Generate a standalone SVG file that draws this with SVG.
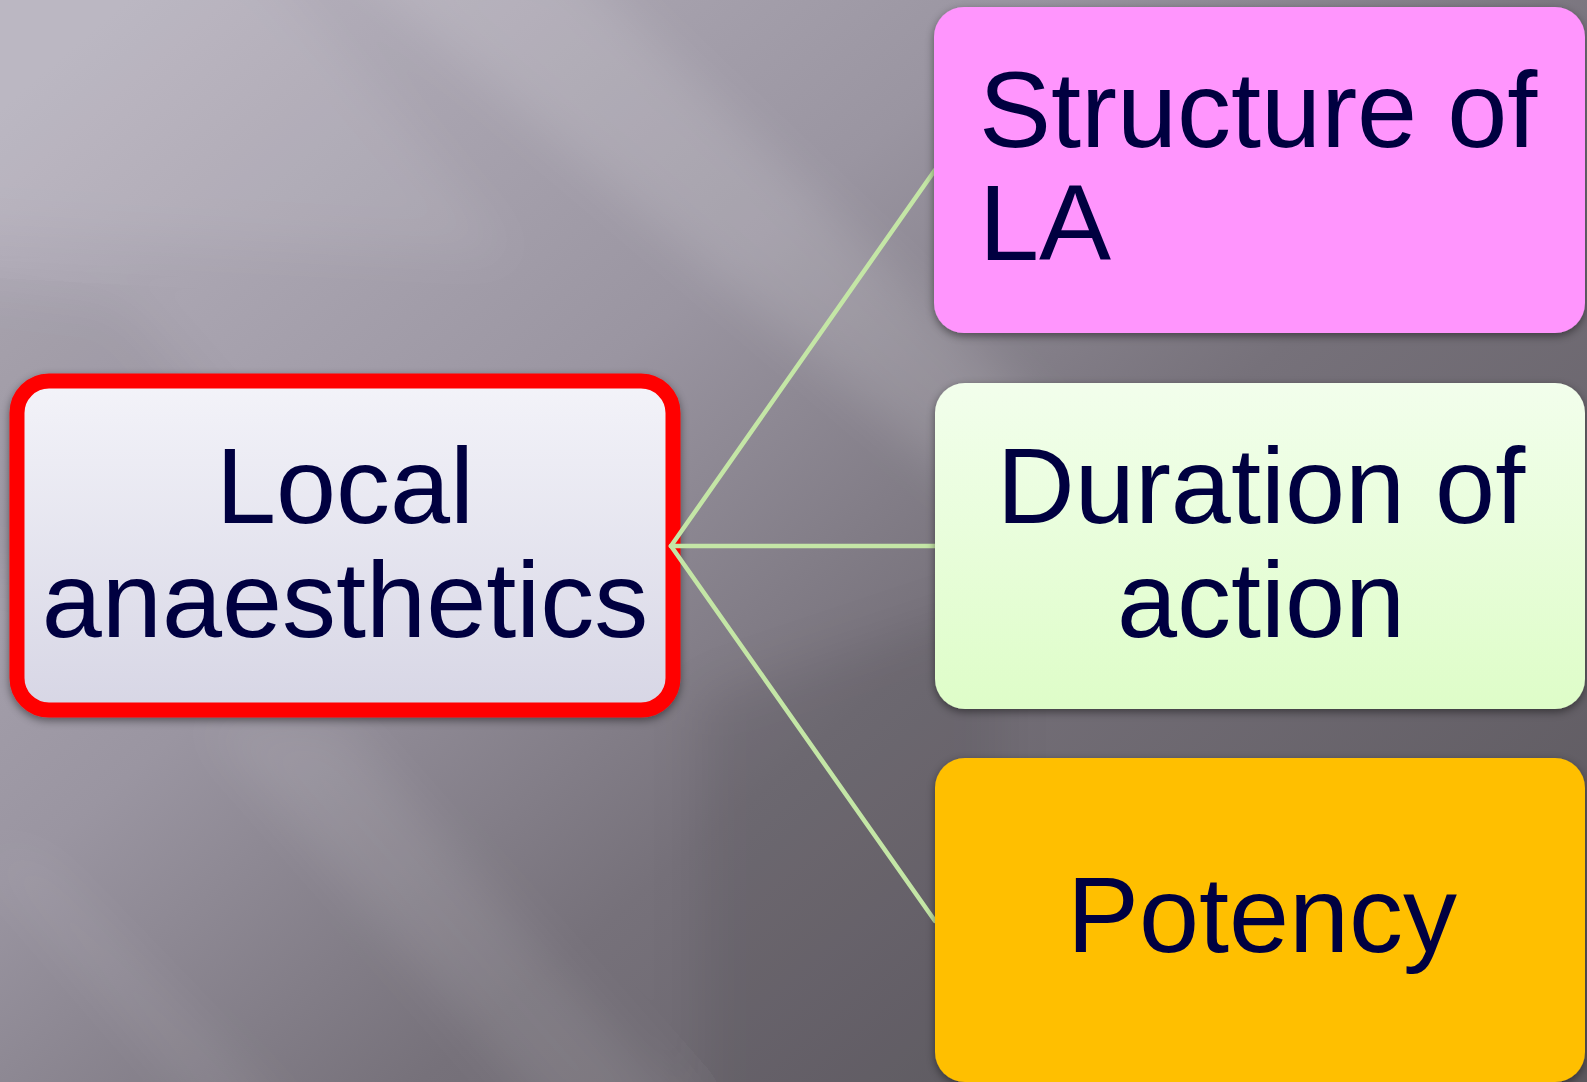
<svg xmlns="http://www.w3.org/2000/svg" width="1587" height="1082" viewBox="0 0 1587 1082">
  <style>
    .lbl { font-family: "Liberation Sans", Arial, sans-serif; font-size: 108px; fill: #000040; }
    .mid { text-anchor: middle; }
    .conn { stroke: #C4E6A6; stroke-width: 4.5; fill: none; stroke-linecap: round; }
  </style>
  <defs>
    <linearGradient id="bg" x1="0" y1="0.1" x2="1" y2="0.9">
      <stop offset="0" stop-color="#B6B1BD"/>
      <stop offset="0.35" stop-color="#9A95A1"/>
      <stop offset="0.6" stop-color="#76717A"/>
      <stop offset="1" stop-color="#5C585E"/>
    </linearGradient>
    <linearGradient id="leftFill" x1="0" y1="0" x2="0" y2="1">
      <stop offset="0" stop-color="#F3F3F9"/>
      <stop offset="1" stop-color="#D7D6E5"/>
    </linearGradient>
    <linearGradient id="durFill" x1="0" y1="0" x2="0" y2="1">
      <stop offset="0" stop-color="#F2FEEC"/>
      <stop offset="1" stop-color="#DEFDC8"/>
    </linearGradient>
    <filter id="blur" x="-20%" y="-20%" width="140%" height="140%">
      <feGaussianBlur stdDeviation="25"/>
    </filter>
    <filter id="shadow" x="-5%" y="-5%" width="110%" height="115%">
      <feDropShadow dx="0" dy="3" stdDeviation="4" flood-color="#000000" flood-opacity="0.45"/>
    </filter>
  </defs>

  <!-- background -->
  <rect x="0" y="0" width="1587" height="1082" fill="url(#bg)"/>
  <g filter="url(#blur)">
    <polygon points="330,-50 560,-50 1050,420 1050,560" fill="#FFFFFF" opacity="0.13"/>
    <polygon points="-50,-50 260,-50 520,260 -50,230" fill="#FFFFFF" opacity="0.08"/>
    <polygon points="-50,280 120,300 420,640 -50,560" fill="#000000" opacity="0.05"/>
    <polygon points="200,720 340,720 700,1130 560,1130" fill="#FFFFFF" opacity="0.09"/>
    <polygon points="-30,840 40,860 300,1130 220,1130" fill="#FFFFFF" opacity="0.07"/>
    <polygon points="700,700 1000,600 1000,1130 700,1130" fill="#000000" opacity="0.08"/>
  </g>

  <!-- left node -->
  <g id="node-local">
    <rect x="17" y="381" width="656" height="329" rx="32" ry="32" fill="url(#leftFill)" stroke="#FF0000" stroke-width="15" filter="url(#shadow)"/>
    <text class="lbl mid" x="345" y="523">Local</text>
    <text class="lbl mid" x="345" y="637">anaesthetics</text>
  </g>

  <!-- connectors -->
  <g id="connectors">
    <line class="conn" x1="671" y1="546" x2="935" y2="170"/>
    <line class="conn" x1="671" y1="546" x2="935" y2="546"/>
    <line class="conn" x1="671" y1="546" x2="935" y2="921"/>
  </g>

  <!-- right nodes -->
  <g id="node-structure">
    <rect x="934" y="7" width="651" height="326" rx="30" ry="30" fill="#FF95FD" filter="url(#shadow)"/>
    <text class="lbl" x="979" y="147">Structure of</text>
    <text class="lbl" x="979" y="260">LA</text>
  </g>

  <g id="node-duration">
    <rect x="935" y="383" width="650" height="326" rx="30" ry="30" fill="url(#durFill)" filter="url(#shadow)"/>
    <text class="lbl mid" x="1261" y="523">Duration of</text>
    <text class="lbl mid" x="1261" y="637">action</text>
  </g>

  <g id="node-potency">
    <rect x="935" y="758" width="650" height="324" rx="30" ry="30" fill="#FFBF00" filter="url(#shadow)"/>
    <text class="lbl mid" x="1262" y="952">Potency</text>
  </g>
</svg>
